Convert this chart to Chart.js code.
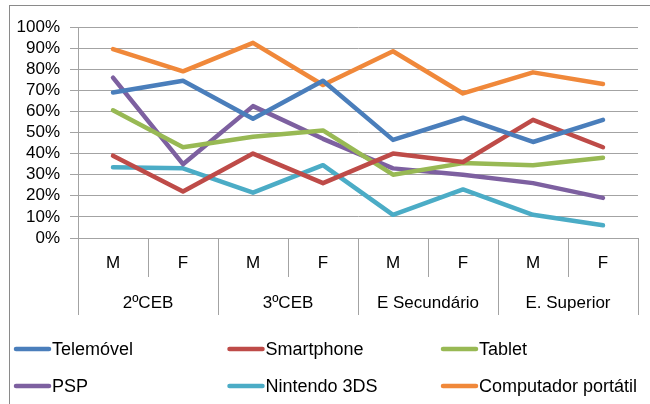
<!DOCTYPE html>
<html>
<head>
<meta charset="utf-8">
<script src="https://cdn.jsdelivr.net/npm/chart.js@4/dist/chart.umd.min.js"></script>
<style>
html,body{margin:0;padding:0;background:#fff;}
#wrap{width:650px;height:404px;position:relative;}
</style>
</head>
<body>
<div id="wrap"><canvas id="c" width="650" height="404"></canvas></div>
<script>
const categories = ["M","F","M","F","M","F","M","F"];
const groups = ["2ºCEB","3ºCEB","E Secundário","E. Superior"];
const telemovel = [69, 74.5, 56.5, 74.5, 46.5, 57, 45.5, 56];
const smartphone = [39, 22, 40, 26, 40, 36, 56, 43];
const tablet = [60.5, 43, 48, 51, 30, 35.5, 34.5, 38];
const psp = [76, 35, 62.5, 47, 33, 30, 26, 19];
const nintendo3ds = [33.5, 33, 21.5, 34.5, 11, 23, 11, 6];
const portatil = [89.5, 79, 92.5, 72.5, 88.5, 68.5, 78.5, 73];
const yTicks = [0,10,20,30,40,50,60,70,80,90,100];

const FONT = "'Liberation Sans', Arial, sans-serif";
const GRID = "#a3a3a3";

function ds(label, data, color){
  return {label, data, borderColor: color, backgroundColor: color, borderWidth: 4.5,
    pointRadius: 0, pointHoverRadius: 0, tension: 0, fill: false,
    borderCapStyle: 'round', borderJoinStyle: 'round'};
}

const decor = {
  id: 'decor',
  beforeDraw(chart){
    const ctx = chart.ctx;
    ctx.save();
    ctx.fillStyle = '#fff';
    ctx.fillRect(0,0,chart.width,chart.height);
    ctx.strokeStyle = '#8a8a8a';
    ctx.lineWidth = 1;
    ctx.strokeRect(9.5, 5.5, 800, 600);
    ctx.restore();
  },
  afterDraw(chart){
    const ctx = chart.ctx;
    const area = chart.chartArea;
    const n = categories.length;
    const w = (area.right - area.left) / n;
    ctx.save();
    ctx.strokeStyle = GRID;
    ctx.lineWidth = 1;
    for (let i = 0; i <= n; i++) {
      const px = Math.round(area.left + i * w) + 0.5;
      const y2 = (i % 2 === 0) ? area.bottom + 77 : area.bottom + 39;
      ctx.beginPath();
      ctx.moveTo(px, area.bottom);
      ctx.lineTo(px, y2);
      ctx.stroke();
    }
    ctx.fillStyle = '#000';
    ctx.font = "17px " + FONT;
    ctx.textAlign = 'center';
    ctx.textBaseline = 'middle';
    groups.forEach((g, k) => {
      const cx = area.left + (2 * k + 1) * w;
      ctx.fillText(g, cx, area.bottom + 65);
    });
    // legend
    const cols = [14, 227.5, 441];
    const rows = [349, 386];
    ctx.font = "18px " + FONT;
    ctx.textAlign = 'left';
    chart.data.datasets.forEach((d, i) => {
      const lx = cols[i % 3], ly = rows[Math.floor(i / 3)];
      ctx.strokeStyle = d.borderColor;
      ctx.lineWidth = 4.5;
      ctx.lineCap = 'round';
      ctx.beginPath();
      ctx.moveTo(lx + 2, ly);
      ctx.lineTo(lx + 35, ly);
      ctx.stroke();
      ctx.fillStyle = '#000';
      ctx.fillText(d.label, lx + 38, ly + 1);
    });
    ctx.restore();
  }
};

new Chart(document.getElementById('c'), {
  type: 'line',
  data: {
    labels: categories,
    datasets: [
      ds('Telemóvel', telemovel, '#4A7EBB'),
      ds('Smartphone', smartphone, '#BE4B48'),
      ds('Tablet', tablet, '#98B954'),
      ds('PSP', psp, '#7D60A0'),
      ds('Nintendo 3DS', nintendo3ds, '#4BACC6'),
      ds('Computador portátil', portatil, '#F0883A')
    ]
  },
  options: {
    responsive: false,
    animation: false,
    devicePixelRatio: 1,
    layout: {padding: {left: 0, right: 12, top: 27, bottom: 86}},
    plugins: {legend: {display: false}, tooltip: {enabled: false}},
    scales: {
      x: {
        offset: true,
        grid: {display: false, drawOnChartArea: false, drawTicks: false},
        border: {display: true, color: GRID, width: 1},
        ticks: {color: '#000', font: {size: 17, family: FONT}, padding: 15, maxRotation: 0, autoSkip: false},
        afterFit(s){ s.height = 80; }
      },
      y: {
        min: 0, max: 100,
        afterBuildTicks(s){ s.ticks = yTicks.map(v => ({value: v})); },
        grid: {color: GRID, lineWidth: 1, tickLength: 8, drawTicks: true},
        border: {display: true, color: GRID, width: 1},
        ticks: {color: '#000', font: {size: 17, family: FONT}, padding: 10, autoSkip: false,
          callback: v => v + '%'},
        afterFit(s){ s.width = 78; }
      }
    }
  },
  plugins: [decor]
});
</script>
</body>
</html>
